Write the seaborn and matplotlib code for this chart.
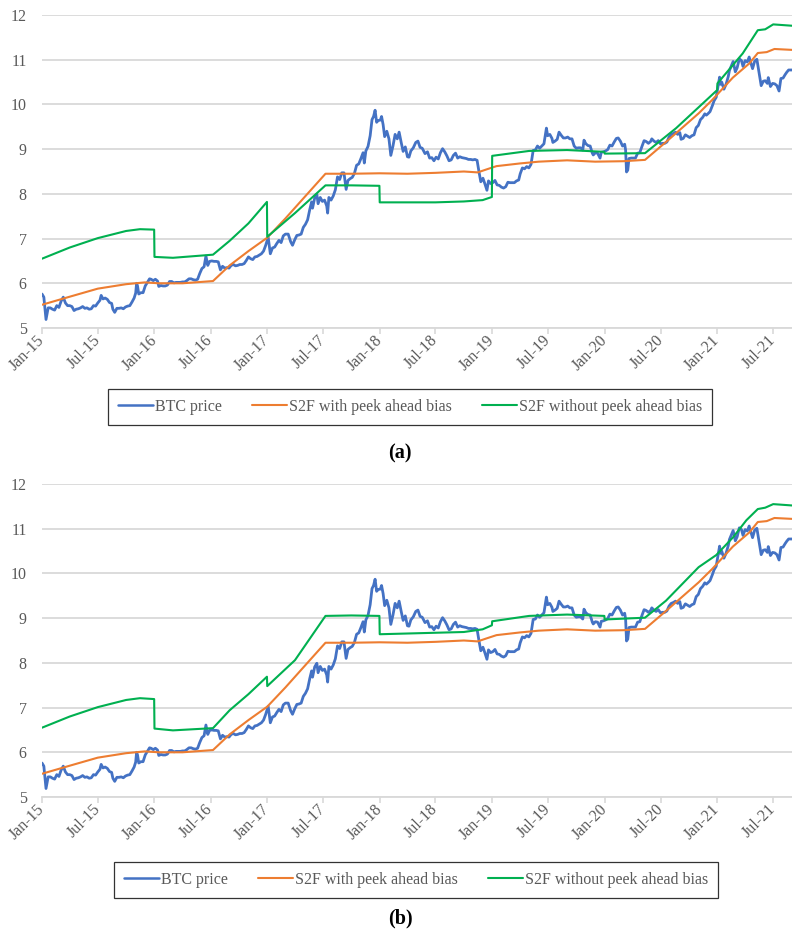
import matplotlib
matplotlib.use("Agg")
import matplotlib.pyplot as plt
import matplotlib.dates as mdates
import numpy as np
import pandas as pd
import seaborn as sns

# ---------------------------------------------------------------------------
# Log BTC price (ln USD), sampled through time
# ---------------------------------------------------------------------------
btc_dates = [
    "2015-01-01", "2015-01-07", "2015-01-14", "2015-01-17", "2015-01-21", "2015-01-28",
    "2015-02-04", "2015-02-11", "2015-02-18", "2015-02-25", "2015-03-04", "2015-03-11",
    "2015-03-18", "2015-03-25", "2015-04-01", "2015-04-08", "2015-04-15", "2015-04-22",
    "2015-04-29", "2015-05-06", "2015-05-13", "2015-05-20", "2015-05-27", "2015-06-03",
    "2015-06-10", "2015-06-17", "2015-06-24", "2015-07-01", "2015-07-08", "2015-07-12",
    "2015-07-18", "2015-07-25", "2015-08-01", "2015-08-08", "2015-08-15", "2015-08-19",
    "2015-08-25", "2015-09-01", "2015-09-08", "2015-09-15", "2015-09-22", "2015-09-29",
    "2015-10-06", "2015-10-13", "2015-10-20", "2015-10-27", "2015-11-01", "2015-11-04",
    "2015-11-07", "2015-11-11", "2015-11-18", "2015-11-25", "2015-12-02", "2015-12-09",
    "2015-12-16", "2015-12-21", "2015-12-28",
    "2016-01-04", "2016-01-11", "2016-01-15", "2016-01-22", "2016-01-29", "2016-02-05",
    "2016-02-12", "2016-02-19", "2016-02-26", "2016-03-04", "2016-03-11", "2016-03-18",
    "2016-03-25", "2016-04-01", "2016-04-08", "2016-04-15", "2016-04-22", "2016-04-29",
    "2016-05-06", "2016-05-13", "2016-05-20", "2016-05-27", "2016-06-03", "2016-06-10",
    "2016-06-16", "2016-06-22", "2016-06-28", "2016-07-05", "2016-07-12", "2016-07-19",
    "2016-07-26", "2016-08-02", "2016-08-09", "2016-08-16", "2016-08-23", "2016-08-30",
    "2016-09-06", "2016-09-13", "2016-09-20", "2016-09-27", "2016-10-04", "2016-10-11",
    "2016-10-18", "2016-10-25", "2016-11-01", "2016-11-08", "2016-11-15", "2016-11-22",
    "2016-11-29", "2016-12-06", "2016-12-13", "2016-12-20", "2016-12-27",
    "2017-01-04", "2017-01-11", "2017-01-18", "2017-01-25", "2017-02-01", "2017-02-08",
    "2017-02-15", "2017-02-22", "2017-03-01", "2017-03-10", "2017-03-18", "2017-03-24",
    "2017-03-31", "2017-04-07", "2017-04-14", "2017-04-21", "2017-04-28", "2017-05-05",
    "2017-05-12", "2017-05-19", "2017-05-25", "2017-05-28", "2017-06-04", "2017-06-11",
    "2017-06-15", "2017-06-22", "2017-06-29", "2017-07-06", "2017-07-13", "2017-07-16",
    "2017-07-20", "2017-07-27", "2017-08-03", "2017-08-10", "2017-08-17", "2017-08-24",
    "2017-08-31", "2017-09-07", "2017-09-14", "2017-09-20", "2017-09-27", "2017-10-04",
    "2017-10-11", "2017-10-18", "2017-10-25", "2017-11-01", "2017-11-08", "2017-11-12",
    "2017-11-17", "2017-11-24", "2017-12-01", "2017-12-07", "2017-12-12", "2017-12-17",
    "2017-12-22", "2017-12-27",
    "2018-01-03", "2018-01-07", "2018-01-12", "2018-01-17", "2018-01-24", "2018-01-31",
    "2018-02-06", "2018-02-13", "2018-02-20", "2018-02-27", "2018-03-05", "2018-03-12",
    "2018-03-18", "2018-03-25", "2018-04-01", "2018-04-06", "2018-04-12", "2018-04-20",
    "2018-04-28", "2018-05-05", "2018-05-12", "2018-05-19", "2018-05-28", "2018-06-05",
    "2018-06-12", "2018-06-19", "2018-06-26", "2018-07-03", "2018-07-10", "2018-07-17",
    "2018-07-24", "2018-07-31", "2018-08-07", "2018-08-14", "2018-08-21", "2018-08-28",
    "2018-09-04", "2018-09-11", "2018-09-18", "2018-09-25", "2018-10-02", "2018-10-09",
    "2018-10-16", "2018-10-23", "2018-10-30", "2018-11-06", "2018-11-13", "2018-11-19",
    "2018-11-25", "2018-12-02", "2018-12-09", "2018-12-15", "2018-12-20", "2018-12-27",
    "2019-01-03", "2019-01-10", "2019-01-17", "2019-01-24", "2019-01-31", "2019-02-07",
    "2019-02-14", "2019-02-21", "2019-02-28", "2019-03-07", "2019-03-14", "2019-03-21",
    "2019-03-28", "2019-04-02", "2019-04-09", "2019-04-16", "2019-04-23", "2019-04-30",
    "2019-05-07", "2019-05-14", "2019-05-21", "2019-05-28", "2019-06-04", "2019-06-11",
    "2019-06-18", "2019-06-26", "2019-06-30", "2019-07-07", "2019-07-14", "2019-07-17",
    "2019-07-24", "2019-07-31", "2019-08-06", "2019-08-13", "2019-08-20", "2019-08-27",
    "2019-09-03", "2019-09-10", "2019-09-17", "2019-09-24", "2019-10-01", "2019-10-08",
    "2019-10-15", "2019-10-22", "2019-10-26", "2019-11-01", "2019-11-08", "2019-11-15",
    "2019-11-22", "2019-11-25", "2019-12-02", "2019-12-09", "2019-12-17", "2019-12-21",
    "2019-12-28",
    "2020-01-04", "2020-01-11", "2020-01-18", "2020-01-25", "2020-02-01", "2020-02-08",
    "2020-02-14", "2020-02-21", "2020-02-28", "2020-03-06", "2020-03-09", "2020-03-12",
    "2020-03-16", "2020-03-20", "2020-03-27", "2020-04-03", "2020-04-10", "2020-04-17",
    "2020-04-24", "2020-05-01", "2020-05-08", "2020-05-15", "2020-05-22", "2020-05-29",
    "2020-06-02", "2020-06-09", "2020-06-16", "2020-06-23", "2020-06-30", "2020-07-07",
    "2020-07-14", "2020-07-21", "2020-07-28", "2020-08-04", "2020-08-11", "2020-08-18",
    "2020-08-25", "2020-09-01", "2020-09-05", "2020-09-12", "2020-09-19", "2020-09-26",
    "2020-10-03", "2020-10-10", "2020-10-17", "2020-10-24", "2020-10-31", "2020-11-07",
    "2020-11-14", "2020-11-21", "2020-11-26", "2020-12-01", "2020-12-08", "2020-12-16",
    "2020-12-21", "2020-12-28",
    "2021-01-03", "2021-01-08", "2021-01-11", "2021-01-15", "2021-01-22", "2021-01-29",
    "2021-02-05", "2021-02-09", "2021-02-16", "2021-02-21", "2021-02-28", "2021-03-06",
    "2021-03-13", "2021-03-20", "2021-03-25", "2021-04-01", "2021-04-08", "2021-04-14",
    "2021-04-18", "2021-04-25", "2021-05-02", "2021-05-09", "2021-05-13", "2021-05-19",
    "2021-05-23", "2021-05-30", "2021-06-05", "2021-06-12", "2021-06-15", "2021-06-22",
    "2021-06-29", "2021-07-06", "2021-07-13", "2021-07-20", "2021-07-26", "2021-08-02",
    "2021-08-09", "2021-08-14", "2021-08-20", "2021-08-25", "2021-08-31",
]
btc_values = [
    5.76, 5.69, 5.19, 5.30, 5.45, 5.45,
    5.42, 5.40, 5.50, 5.46, 5.60, 5.69,
    5.56, 5.50, 5.50, 5.48, 5.39, 5.42,
    5.43, 5.45, 5.48, 5.44, 5.45, 5.42,
    5.43, 5.50, 5.49, 5.56, 5.62, 5.73,
    5.65, 5.67, 5.64, 5.57, 5.55, 5.42,
    5.35, 5.44, 5.44, 5.45, 5.43, 5.47,
    5.49, 5.50, 5.58, 5.67, 5.78, 6.00,
    5.94, 5.76, 5.79, 5.79, 5.94, 6.02,
    6.10, 6.09, 6.06,
    6.09, 6.05, 5.93, 5.95, 5.94, 5.94,
    5.96, 6.04, 6.04, 6.01, 6.02, 6.02,
    6.02, 6.03, 6.03, 6.06, 6.10, 6.10,
    6.08, 6.07, 6.09, 6.22, 6.33, 6.37,
    6.61, 6.40, 6.49, 6.50, 6.49, 6.49,
    6.48, 6.30, 6.38, 6.34, 6.35, 6.34,
    6.40, 6.42, 6.39, 6.40, 6.42, 6.42,
    6.44, 6.51, 6.59, 6.55, 6.53, 6.59,
    6.60, 6.63, 6.66, 6.72, 6.85,
    7.03, 6.66, 6.79, 6.81, 6.89, 6.96,
    6.91, 7.06, 7.10, 7.10, 6.93, 6.85,
    6.97, 7.07, 7.08, 7.10, 7.25, 7.32,
    7.42, 7.65, 7.82, 7.68, 7.91, 7.99,
    7.78, 7.92, 7.83, 7.86, 7.73, 7.57,
    7.92, 7.86, 7.95, 8.09, 8.38, 8.32,
    8.47, 8.47, 8.10, 8.30, 8.34, 8.37,
    8.46, 8.64, 8.67, 8.79, 8.92, 8.69,
    8.96, 9.06, 9.30, 9.66, 9.73, 9.87,
    9.60, 9.64,
    9.65, 9.73, 9.55, 9.28, 9.40, 9.23,
    8.86, 9.07, 9.33, 9.23, 9.38, 9.14,
    8.95, 9.05, 8.83, 8.82, 8.96, 9.03,
    9.15, 9.18, 9.04, 9.02, 8.90, 8.94,
    8.80, 8.81, 8.74, 8.82, 8.78, 8.92,
    9.01, 8.94, 8.85, 8.74, 8.76, 8.86,
    8.91, 8.80, 8.83, 8.81, 8.80, 8.79,
    8.77, 8.77, 8.76, 8.77, 8.75, 8.50,
    8.27, 8.35, 8.21, 8.08, 8.29, 8.23,
    8.25, 8.30, 8.20, 8.19, 8.15, 8.13,
    8.16, 8.26, 8.25, 8.25, 8.25, 8.29,
    8.31, 8.45, 8.58, 8.56, 8.61, 8.58,
    8.66, 8.97, 8.98, 9.07, 9.02, 9.07,
    9.12, 9.47, 9.30, 9.33, 9.24, 9.15,
    9.18, 9.22, 9.38, 9.31, 9.25, 9.25,
    9.27, 9.23, 9.23, 9.07, 9.02, 9.03,
    9.03, 8.98, 9.20, 9.12, 9.08, 9.07,
    8.91, 8.87, 8.92, 8.91, 8.80, 8.93,
    8.94,
    8.96, 8.99, 9.09, 9.07, 9.16, 9.24,
    9.25, 9.18, 9.07, 9.11, 8.98, 8.49,
    8.53, 8.79, 8.80, 8.80, 8.80, 8.91,
    8.92, 9.06, 9.19, 9.17, 9.13, 9.17,
    9.23, 9.18, 9.15, 9.19, 9.12, 9.13,
    9.13, 9.16, 9.27, 9.33, 9.35, 9.38,
    9.33, 9.37, 9.22, 9.24, 9.32, 9.29,
    9.26, 9.30, 9.32, 9.48, 9.53, 9.66,
    9.71, 9.79, 9.76, 9.79, 9.84, 9.98,
    10.08, 10.16,
    10.40, 10.61, 10.45, 10.50, 10.34, 10.45,
    10.62, 10.76, 10.88, 10.96, 10.73, 10.82,
    11.02, 10.98, 10.85, 10.98, 10.95, 11.06,
    10.96, 10.80, 10.97, 11.01, 10.84, 10.58,
    10.42, 10.52, 10.53, 10.47, 10.60, 10.40,
    10.47, 10.46, 10.42, 10.30, 10.58, 10.59,
    10.67, 10.72, 10.77, 10.77, 10.77,
]

# ---------------------------------------------------------------------------
# S2F model estimate with peek-ahead bias (same in both panels)
# ---------------------------------------------------------------------------
s2f_bias_dates = [
    "2015-01-01", "2015-04-01", "2015-07-01", "2015-10-01", "2015-12-01", "2016-01-15",
    "2016-04-01", "2016-07-09", "2016-09-01", "2016-11-01", "2017-01-01", "2017-03-01",
    "2017-05-01", "2017-07-09", "2017-10-01", "2018-01-01", "2018-04-01", "2018-07-01",
    "2018-10-01", "2018-11-15", "2018-12-15", "2019-01-15", "2019-04-01", "2019-06-01",
    "2019-09-01", "2019-12-01", "2020-03-01", "2020-05-11", "2020-07-18", "2020-11-01",
    "2020-12-15", "2021-02-20", "2021-04-15", "2021-05-12", "2021-06-10", "2021-07-05",
    "2021-08-31",
]
s2f_bias_values = [
    5.52, 5.70, 5.88, 5.98, 6.02, 6.00,
    6.00, 6.05, 6.40, 6.72, 7.02, 7.45,
    7.92, 8.45, 8.45, 8.46, 8.45, 8.47,
    8.50, 8.48, 8.55, 8.62, 8.68, 8.72,
    8.75, 8.72, 8.73, 8.76, 9.16, 9.80,
    10.10, 10.60, 10.92, 11.15, 11.17, 11.24,
    11.22,
]

# ---------------------------------------------------------------------------
# S2F model estimate without peek-ahead bias, panel (a)
# ---------------------------------------------------------------------------
s2f_a_dates = [
    "2015-01-01", "2015-04-01", "2015-07-01", "2015-10-01", "2015-11-15", "2015-12-31",
    "2016-01-01", "2016-03-01", "2016-07-09", "2016-09-01", "2016-11-01", "2016-12-31",
    "2017-01-01", "2017-04-01", "2017-07-09", "2017-10-01", "2017-12-31", "2018-01-01",
    "2018-07-01", "2018-10-01", "2018-12-01", "2018-12-31", "2019-01-01", "2019-05-01",
    "2019-09-01", "2019-12-31", "2020-01-01", "2020-05-11", "2020-08-20", "2020-12-31",
    "2021-01-01", "2021-03-24", "2021-05-12", "2021-06-05", "2021-07-01", "2021-08-31",
]
s2f_a_values = [
    6.55, 6.80, 7.01, 7.17, 7.21, 7.20,
    6.59, 6.57, 6.64, 6.95, 7.34, 7.82,
    7.04, 7.57, 8.19, 8.19, 8.18, 7.81,
    7.81, 7.83, 7.86, 7.93, 8.85, 8.96,
    8.98, 8.94, 8.90, 8.91, 9.47, 10.32,
    10.47, 11.14, 11.66, 11.68, 11.79, 11.76,
]

# ---------------------------------------------------------------------------
# S2F model estimate without peek-ahead bias, panel (b)
# ---------------------------------------------------------------------------
s2f_b_dates = [
    "2015-01-01", "2015-04-01", "2015-07-01", "2015-10-01", "2015-11-15", "2015-12-31",
    "2016-01-01", "2016-03-01", "2016-07-09", "2016-09-01", "2016-11-01", "2016-12-31",
    "2017-01-01", "2017-04-01", "2017-07-09", "2017-10-01", "2017-12-31", "2018-01-01",
    "2018-10-01", "2018-12-01", "2018-12-31", "2019-01-01", "2019-05-01", "2019-09-01",
    "2019-12-31", "2020-01-01", "2020-05-11", "2020-07-18", "2020-11-01", "2020-12-28",
    "2021-02-21", "2021-04-05", "2021-05-12", "2021-06-05", "2021-07-01", "2021-08-31",
]
s2f_b_values = [
    6.55, 6.80, 7.01, 7.17, 7.21, 7.19,
    6.53, 6.49, 6.54, 6.94, 7.30, 7.69,
    7.48, 8.06, 9.05, 9.06, 9.05, 8.64,
    8.69, 8.75, 8.84, 8.93, 9.05, 9.08,
    9.05, 8.97, 9.01, 9.39, 10.14, 10.41,
    10.81, 11.19, 11.44, 11.47, 11.55, 11.52,
]

series_names = ["BTC price", "S2F with peek ahead bias", "S2F without peek ahead bias"]
series_colors = ["#4472C4", "#ED7D31", "#00B050"]
panel_labels = ["(a)", "(b)"]

y_ticks = [5, 6, 7, 8, 9, 10, 11, 12]


def long_frame(dates, values, name):
    return pd.DataFrame({"date": pd.to_datetime(dates), "value": values, "series": name})


def panel_frame(no_bias_dates, no_bias_values):
    return pd.concat([
        long_frame(btc_dates, btc_values, series_names[0]),
        long_frame(s2f_bias_dates, s2f_bias_values, series_names[1]),
        long_frame(no_bias_dates, no_bias_values, series_names[2]),
    ], ignore_index=True)


frames = [panel_frame(s2f_a_dates, s2f_a_values), panel_frame(s2f_b_dates, s2f_b_values)]

# ---------------------------------------------------------------------------
# Figure
# ---------------------------------------------------------------------------
sns.set_theme(style="white")
plt.rcParams["font.family"] = ["Liberation Serif", "DejaVu Serif"]

W, H = 792, 935
fig = plt.figure(figsize=(W / 100, H / 100), dpi=100)

grid_col = "#d9d9d9"
text_col = "#595959"

# pixel layout: (axes top, axes bottom, legend centre x, legend centre y, caption y)
layout = [
    (15, 328, 410, 407, 453),
    (484, 797, 416, 880, 918),
]

palette = dict(zip(series_names, series_colors))
x_left, x_right = pd.Timestamp("2015-01-01"), pd.Timestamp("2021-08-31")

for frame, (top, bottom, lx, ly, cy), label in zip(frames, layout, panel_labels):
    ax = fig.add_axes([42 / W, 1 - bottom / H, (W - 42) / W, (bottom - top) / H])
    sns.lineplot(data=frame, x="date", y="value", hue="series", hue_order=series_names,
                 palette=palette, estimator=None, sort=True, ax=ax, legend=True)
    for line, name in zip(ax.get_lines(), series_names):
        line.set_linewidth(2.0 if name == "BTC price" else 1.5)
        line.set_solid_joinstyle("round")

    ax.set_xlim(x_left, x_right)
    ax.set_ylim(5, 12)
    ax.set_yticks(y_ticks)
    ax.set_xlabel("")
    ax.set_ylabel("")

    ax.xaxis.set_major_locator(mdates.MonthLocator(bymonth=[1, 7]))
    ax.xaxis.set_major_formatter(mdates.DateFormatter("%b-%y"))

    ax.grid(axis="y", color=grid_col, linewidth=1.3)
    ax.grid(axis="x", visible=False)
    ax.set_axisbelow(True)
    for side in ["top", "right", "left"]:
        ax.spines[side].set_visible(False)
    ax.spines["bottom"].set_color(grid_col)
    ax.spines["bottom"].set_linewidth(1.3)

    ax.tick_params(axis="x", direction="out", length=4, width=1.2, color=grid_col,
                   labelsize=11.5, labelcolor=text_col, pad=3, bottom=True)
    ax.tick_params(axis="y", length=0, labelsize=11.5, labelcolor=text_col, pad=11)
    for t in ax.get_xticklabels():
        t.set_rotation(45)
        t.set_ha("right")
        t.set_va("center")
        t.set_rotation_mode("anchor")

    handles, labels = ax.get_legend_handles_labels()
    ax.get_legend().remove()
    leg = fig.legend(handles, labels, loc="center", bbox_to_anchor=(lx / W, 1 - ly / H),
                     ncol=3, fontsize=11.5, frameon=True, fancybox=False, shadow=False,
                     handlelength=2.2, handletextpad=0.1, columnspacing=1.9,
                     borderpad=0.6, borderaxespad=0)
    leg.get_frame().set_edgecolor("black")
    leg.get_frame().set_linewidth(0.9)
    for txt in leg.get_texts():
        txt.set_color(text_col)
    for lh, name in zip(leg.legend_handles, series_names):
        lh.set_linewidth(1.8 if name == "BTC price" else 1.5)

    fig.text(400 / W, 1 - cy / H, label, ha="center", va="center",
             fontsize=14.5, fontweight="bold", color="black")

fig.savefig("out.png", dpi=100, facecolor="white")
